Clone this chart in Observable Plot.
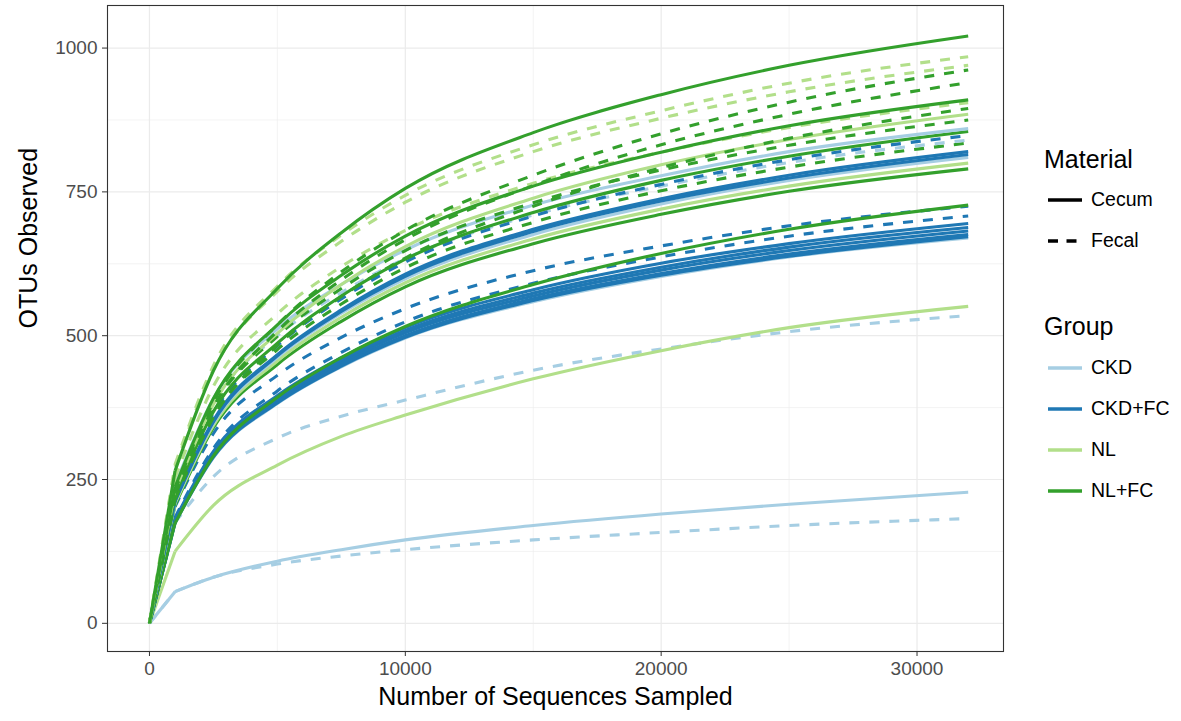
<!DOCTYPE html>
<html>
<head>
<meta charset="utf-8">
<script src="https://cdn.jsdelivr.net/npm/d3@7"></script>
<script src="https://cdn.jsdelivr.net/npm/@observablehq/plot@0.6"></script>
<style>
  html, body { margin: 0; padding: 0; background: #ffffff; }
  #wrap { position: relative; width: 1181px; height: 721px; font-family: "Liberation Sans", Arial, Helvetica, sans-serif; }
  #chart { position: absolute; left: 0; top: 0; }
  .lg { position: absolute; color: #000; white-space: nowrap; }
  .lg-title { font-size: 25px; }
  .lg-label { font-size: 19.5px; }
  .lg-key { position: absolute; }
</style>
</head>
<body>
<div id="wrap">
  <div id="chart"></div>
  <div id="legend"></div>
</div>
<script>
// ---- data ----
const depths = [0, 1000, 2500, 5000, 7500, 10000, 15000, 20000, 25000, 32000];

const groups = ["CKD", "CKD+FC", "NL", "NL+FC"];
const groupColors = ["#A6CEE3", "#1F78B4", "#B2DF8A", "#33A02C"];
const materials = ["Cecum", "Fecal"];

const xTicks = [0, 10000, 20000, 30000];
const yTicks = [0, 250, 500, 750, 1000];

const curveGroup = [
  "CKD", "CKD", "CKD", "NL",
  "CKD", "CKD+FC", "CKD+FC", "CKD+FC", "CKD+FC", "CKD+FC", "CKD+FC", "CKD+FC", "NL+FC",
  "NL+FC", "NL", "CKD", "CKD+FC", "CKD+FC", "NL+FC", "CKD", "CKD+FC", "NL+FC", "CKD",
  "NL+FC", "NL", "NL+FC", "NL", "NL+FC", "NL+FC", "NL+FC", "NL", "NL", "NL+FC"
];
const curveMaterial = [
  "Fecal", "Cecum", "Fecal", "Cecum",
  "Cecum", "Cecum", "Cecum", "Cecum", "Cecum", "Cecum", "Fecal", "Fecal", "Cecum",
  "Cecum", "Cecum", "Cecum", "Cecum", "Cecum", "Fecal", "Fecal", "Fecal", "Cecum", "Cecum",
  "Fecal", "Cecum", "Fecal", "Fecal", "Cecum", "Fecal", "Fecal", "Fecal", "Fecal", "Cecum"
];
const curveValues = [
  [0, 55, 80, 103, 117, 128, 145, 158, 170, 182],
  [0, 55, 80, 108, 128, 145, 170, 190, 207, 228],
  [0, 175, 255, 322, 360, 388, 440, 477, 507, 535],
  [0, 125, 205, 275, 325, 362, 425, 474, 514, 551],
  [0, 174, 288, 382, 446, 496, 559, 603, 637, 670],
  [0, 175, 289, 383, 447, 497, 561, 605, 638, 672],
  [0, 176, 291, 385, 450, 500, 564, 608, 642, 676],
  [0, 177, 293, 389, 454, 505, 569, 614, 648, 682],
  [0, 179, 296, 392, 458, 509, 574, 619, 654, 688],
  [0, 181, 299, 396, 462, 514, 580, 626, 660, 695],
  [0, 184, 304, 404, 471, 524, 591, 637, 673, 708],
  [0, 203, 330, 431, 497, 547, 613, 656, 691, 725],
  [0, 174, 291, 393, 462, 516, 589, 643, 685, 727],
  [0, 205, 340, 450, 525, 585, 660, 711, 751, 790],
  [0, 208, 344, 456, 532, 592, 668, 720, 760, 800],
  [0, 211, 348, 462, 539, 599, 676, 729, 770, 810],
  [0, 212, 350, 465, 542, 603, 681, 734, 774, 815],
  [0, 213, 353, 467, 545, 607, 685, 738, 779, 820],
  [0, 217, 359, 476, 555, 618, 697, 752, 793, 835],
  [0, 235, 382, 500, 575, 634, 710, 760, 801, 840],
  [0, 220, 365, 483, 564, 628, 708, 763, 806, 848],
  [0, 222, 368, 487, 569, 633, 714, 770, 812, 855],
  [0, 241, 391, 512, 589, 649, 727, 778, 820, 860],
  [0, 228, 376, 499, 582, 648, 731, 788, 831, 875],
  [0, 230, 381, 504, 589, 655, 739, 797, 841, 885],
  [0, 215, 358, 483, 568, 635, 725, 792, 843, 895],
  [0, 253, 412, 538, 620, 683, 765, 819, 862, 905],
  [0, 237, 391, 519, 605, 673, 760, 819, 865, 910],
  [0, 226, 376, 508, 597, 667, 761, 832, 885, 940],
  [0, 231, 385, 519, 611, 683, 779, 851, 906, 962],
  [0, 272, 441, 577, 664, 732, 820, 878, 924, 970],
  [0, 276, 448, 586, 675, 744, 832, 891, 939, 985],
  [0, 265, 439, 582, 679, 756, 853, 919, 970, 1021]
];

// ---- build rows ----
const rows = [];
curveValues.forEach((vals, i) => {
  vals.forEach((v, j) => {
    rows.push({id: i, depth: depths[j], otus: v, group: curveGroup[i], material: curveMaterial[i]});
  });
});

const firstStep = depths[1];
const lineMarks = curveValues.flatMap((_, i) => {
  const mine = rows.filter(r => r.id === i);
  const opts = {
    x: "depth", y: "otus", stroke: "group",
    strokeWidth: 3.1,
    strokeDasharray: curveMaterial[i] === "Fecal" ? "10,10" : null,
    strokeLinecap: "butt",
    strokeLinejoin: "round"
  };
  return [
    Plot.line(mine.filter(r => r.depth <= firstStep), {...opts, curve: "linear"}),
    Plot.line(mine.filter(r => r.depth >= firstStep), {...opts, curve: "monotone-x"})
  ];
});

const grid = "#EBEBEB";
const chart = Plot.plot({
  width: 1010,
  height: 721,
  marginLeft: 107,
  marginRight: 7,
  marginTop: 5,
  marginBottom: 70,
  style: {fontFamily: '"Liberation Sans", Arial, Helvetica, sans-serif', background: "#ffffff"},
  x: {domain: [-1640, 33380]},
  y: {domain: [-49, 1074]},
  color: {domain: groups, range: groupColors},
  marks: [
    Plot.gridX([5000, 15000, 25000], {stroke: grid, strokeOpacity: 1, strokeWidth: 0.6}),
    Plot.gridY([125, 375, 625, 875], {stroke: grid, strokeOpacity: 1, strokeWidth: 0.6}),
    Plot.gridX(xTicks, {stroke: grid, strokeOpacity: 1, strokeWidth: 1.2}),
    Plot.gridY(yTicks, {stroke: grid, strokeOpacity: 1, strokeWidth: 1.2}),
    ...lineMarks,
    Plot.frame({stroke: "#333333", strokeWidth: 1.1}),
    Plot.axisX(xTicks, {tickSize: 5, tickPadding: 5, stroke: "#333333", fill: "#4D4D4D", fontSize: 19, tickFormat: d => String(d), label: null}),
    Plot.axisY(yTicks, {tickSize: 5, tickPadding: 5, stroke: "#333333", fill: "#4D4D4D", fontSize: 19, tickFormat: d => String(d), label: null}),
    Plot.text(["Number of Sequences Sampled"], {frameAnchor: "bottom", dy: 53, fontSize: 25, fill: "#000"}),
    Plot.text(["OTUs Observed"], {frameAnchor: "left", dx: -79, rotate: -90, fontSize: 25, fill: "#000"})
  ]
});
document.getElementById("chart").appendChild(chart);

// ---- legend ----
const legend = document.getElementById("legend");
function addText(txt, cls, x, y) {
  const d = document.createElement("div");
  d.className = "lg " + cls;
  d.textContent = txt;
  d.style.left = x + "px";
  d.style.top = y + "px";
  legend.appendChild(d);
}
function addKey(color, dash, y) {
  const ns = "http://www.w3.org/2000/svg";
  const s = document.createElementNS(ns, "svg");
  s.setAttribute("width", 36);
  s.setAttribute("height", 10);
  s.setAttribute("class", "lg-key");
  s.style.left = "1047px";
  s.style.top = (y - 5) + "px";
  const l = document.createElementNS(ns, "line");
  l.setAttribute("x1", 1); l.setAttribute("x2", 35);
  l.setAttribute("y1", 5); l.setAttribute("y2", 5);
  l.setAttribute("stroke", color);
  l.setAttribute("stroke-width", 3.6);
  if (dash) l.setAttribute("stroke-dasharray", "10,8.5");
  s.appendChild(l);
  legend.appendChild(s);
}
addText("Material", "lg-title", 1044, 145);
materials.forEach((m, i) => {
  const y = 200 + i * 41;
  addKey("#000000", m === "Fecal", y);
  addText(m, "lg-label", 1091, y - 12);
});
addText("Group", "lg-title", 1044, 312);
groups.forEach((g, i) => {
  const y = 368 + i * 41;
  addKey(groupColors[i], false, y);
  addText(g, "lg-label", 1091, y - 12);
});
</script>
</body>
</html>
